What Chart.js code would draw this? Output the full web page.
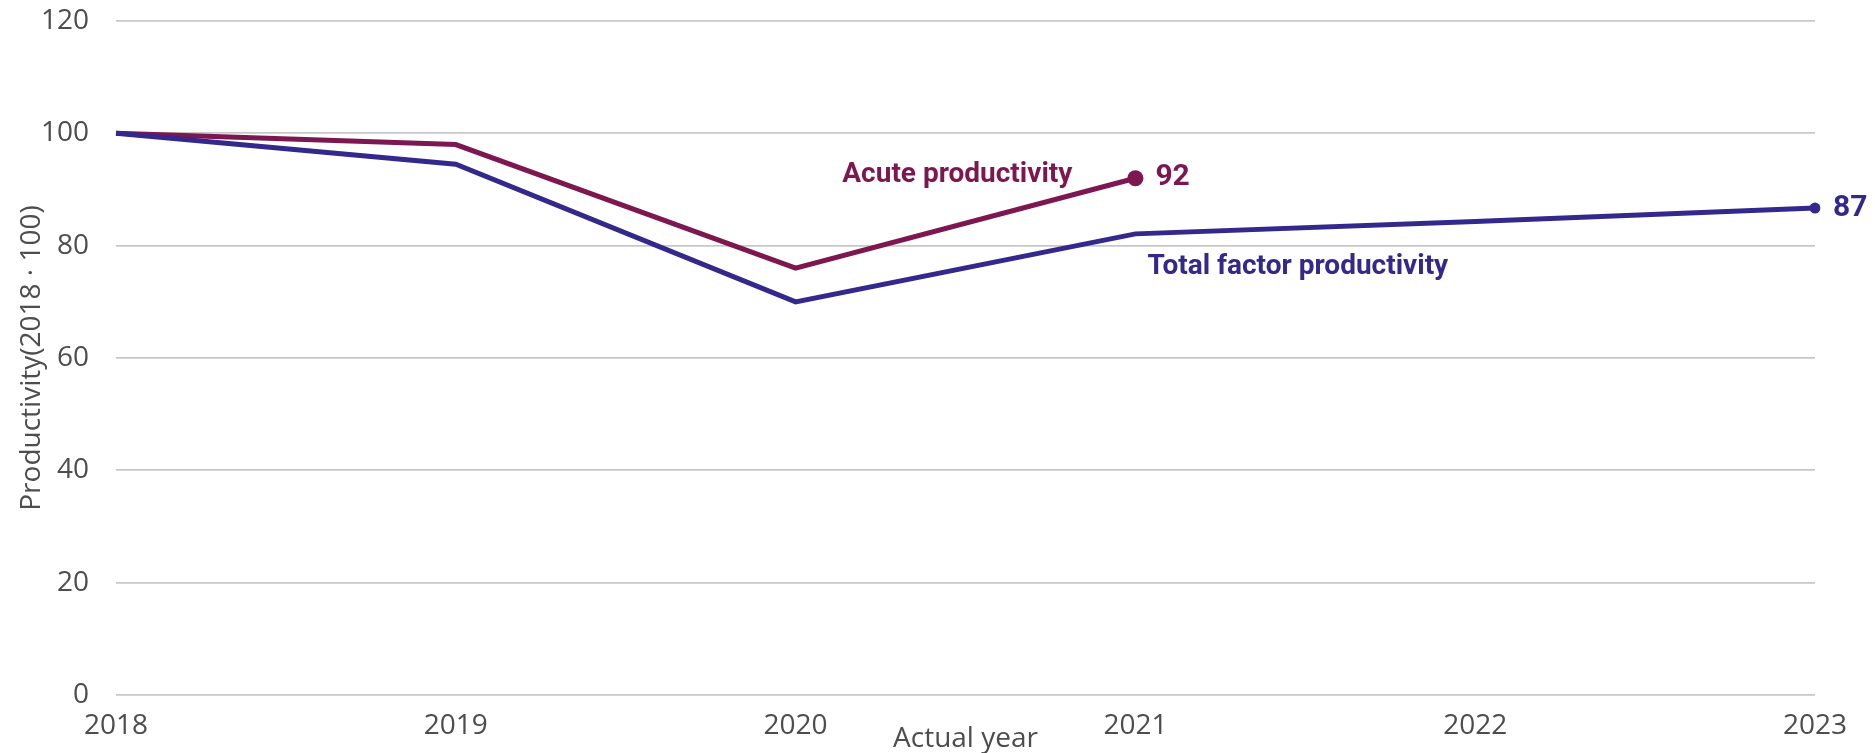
<!DOCTYPE html>
<html>
<head>
<meta charset="utf-8">
<script src="https://cdn.jsdelivr.net/npm/chart.js@4.4.1/dist/chart.umd.min.js"></script>
<style>
html,body{margin:0;padding:0;background:#fff;}
#wrap{width:1875px;height:753px;position:relative;}
</style>
</head>
<body>
<div id="wrap"><canvas id="c" width="1875" height="753"></canvas></div>
<script>
const years = ['2018','2019','2020','2021','2022','2023'];
const acuteProductivity = [100, 98, 76, 92, null, null];
const totalFactorProductivity = [100, 94.5, 70, 82.1, 84.3, 86.7];
const yTicks = [0, 20, 40, 60, 80, 100, 120];
const acuteLabel = 'Acute productivity';
const tfpLabel = 'Total factor productivity';
const acuteEndLabel = '92';
const tfpEndLabel = '87';

const ACUTE = '#7d1750';
const TFP = '#33288b';
const TEXT_FONT = "'Open Sans', sans-serif";
const BOLD_FONT = "Roboto, 'Open Sans', sans-serif";

const labelPlugin = {
  id: 'endLabels',
  afterDatasetsDraw(chart) {
    const {ctx, scales:{x, y}} = chart;
    ctx.save();
    ctx.textBaseline = 'middle';
    // Acute
    const ai = 3;
    const ax = x.getPixelForValue(ai), ay = y.getPixelForValue(acuteProductivity[ai]);
    ctx.fillStyle = ACUTE;
    ctx.font = "bold 28px " + BOLD_FONT;
    ctx.textAlign = 'right';
    ctx.fillText(acuteLabel, ax - 63, ay - 3);
    ctx.textAlign = 'left';
    ctx.font = "bold 30px " + BOLD_FONT;
    ctx.fillText(acuteEndLabel, ax + 20, ay - 1);
    // TFP
    const ti = totalFactorProductivity.length - 1;
    const tx = x.getPixelForValue(ti), ty = y.getPixelForValue(totalFactorProductivity[ti]);
    ctx.fillStyle = TFP;
    ctx.textAlign = 'left';
    ctx.fillText(tfpEndLabel, tx + 18, ty);
    ctx.font = "bold 28px " + BOLD_FONT;
    const mx = x.getPixelForValue(3), my = y.getPixelForValue(totalFactorProductivity[3]);
    ctx.fillText(tfpLabel, mx + 12, my + 33);
    ctx.restore();
  }
};

function lastOnlyRadius(r) {
  return (c) => {
    const data = c.dataset.data;
    let last = -1;
    data.forEach((v, i) => { if (v !== null) last = i; });
    return c.dataIndex === last ? r : 0;
  };
}

new Chart(document.getElementById('c'), {
  type: 'line',
  data: {
    labels: years,
    datasets: [
      {
        label: tfpLabel,
        data: totalFactorProductivity,
        borderColor: TFP,
        backgroundColor: TFP,
        borderWidth: 5,
        pointRadius: lastOnlyRadius(5.5),
        pointBorderWidth: 0,
        tension: 0,
        spanGaps: false
      },
      {
        label: acuteLabel,
        data: acuteProductivity,
        borderColor: ACUTE,
        backgroundColor: ACUTE,
        borderWidth: 5,
        pointRadius: lastOnlyRadius(8),
        pointBorderWidth: 0,
        tension: 0,
        spanGaps: false
      }
    ]
  },
  options: {
    responsive: false,
    animation: false,
    devicePixelRatio: 1,
    layout: { padding: { top: 21, right: 60, left: 0, bottom: 0 } },
    plugins: { legend: { display: false }, tooltip: { enabled: false } },
    scales: {
      x: {
        offset: false,
        grid: { display: false, drawTicks: false },
        border: { display: false },
        ticks: { color: '#4d4d4d', font: { family: TEXT_FONT, size: 28 }, padding: 14, maxRotation: 0, autoSkip: false },
        title: { display: true, text: 'Actual year', color: '#4d4d4d', font: { family: TEXT_FONT, size: 28, lineHeight: 1 }, padding: { top: 0, bottom: 0 } },
        afterFit(s) { s.height = 58; }
      },
      y: {
        min: 0, max: 120,
        afterBuildTicks(s) { s.ticks = yTicks.map(v => ({ value: v })); },
        grid: { color: '#c8c8c8', lineWidth: 1.8, drawTicks: true, tickLength: 27, tickColor: 'rgba(0,0,0,0)' },
        border: { display: false },
        ticks: { color: '#4d4d4d', font: { family: TEXT_FONT, size: 28 }, padding: 0 },
        title: { display: true, text: 'Productivity(2018 · 100)', color: '#4d4d4d', font: { family: TEXT_FONT, size: 28, lineHeight: 1 }, padding: { top: 18, bottom: 0 } },
        afterFit(s) { s.width = 116; }
      }
    }
  },
  plugins: [labelPlugin]
});
</script>
</body>
</html>
